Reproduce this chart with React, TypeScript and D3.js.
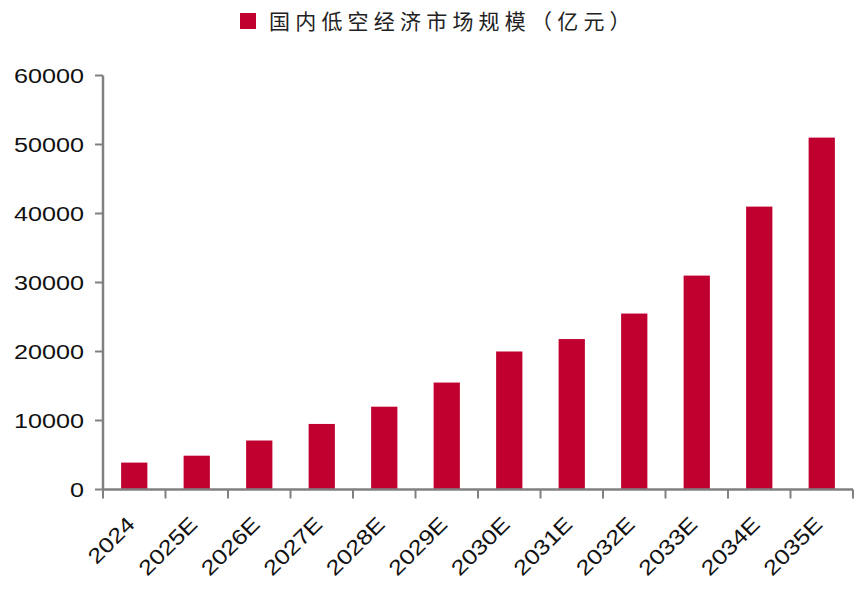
import React from "react";
import * as d3 from "d3";

const categories = ["2024", "2025E", "2026E", "2027E", "2028E", "2029E", "2030E", "2031E", "2032E", "2033E", "2034E", "2035E"];
const values = [3900, 4900, 7100, 9500, 12000, 15500, 20000, 21800, 25500, 31000, 41000, 51000];
const yTicks = [0, 10000, 20000, 30000, 40000, 50000, 60000];
const legendLabel = "国内低空经济市场规模（亿元）";

const W = 859;
const H = 592;
const left = 103;
const right = 853;
const top = 75.5;
const bottom = 489.5;
const barColor = "#C0002F";
const axisColor = "#808080";

export default function App() {
  const x = d3.scaleBand<string>().domain(categories).range([left, right]).paddingInner(0.58).paddingOuter(0.29);
  const xb = d3.scaleBand<string>().domain(categories).range([left, right]);
  const y = d3.scaleLinear().domain([0, 60000]).range([bottom, top]);
  const font = "Arial, 'Liberation Sans', sans-serif";
  return (
    <svg width={W} height={H} style={{ position: "absolute", left: 0, top: 0, background: "#fff" }}>
      <rect x={0} y={0} width={W} height={H} fill="#fff" />
      {/* legend */}
      <rect x={240} y={13} width={16} height={16} fill={barColor} />
      <text x={269} y={29} fontFamily="'Noto Sans CJK SC', sans-serif" fontSize={21} fontWeight={400} letterSpacing={5.2} fill="#222">
        {legendLabel}
      </text>
      {/* bars */}
      {categories.map((c, i) => (
        <rect key={c} x={x(c)} y={y(values[i])} width={x.bandwidth()} height={bottom - y(values[i])} fill={barColor} />
      ))}
      {/* y axis */}
      <line x1={left} x2={left} y1={top} y2={bottom} stroke={axisColor} strokeWidth={2.5} />
      {yTicks.map((t) => (
        <g key={t}>
          <line x1={left - 8} x2={left} y1={y(t)} y2={y(t)} stroke={axisColor} strokeWidth={2} />
          <text
            x={0}
            y={0}
            transform={`translate(${84},${y(t) + 7.5}) scale(1.2,1)`}
            textAnchor="end"
            fontFamily={font}
            fontSize={21}
            fill="#111"
          >
            {t}
          </text>
        </g>
      ))}
      {/* x axis */}
      <line x1={left} x2={right} y1={bottom} y2={bottom} stroke={axisColor} strokeWidth={2.5} />
      {[...categories.map((c) => xb(c) as number), right].map((px, i) => (
        <line key={i} x1={px} x2={px} y1={bottom} y2={bottom + 9} stroke={axisColor} strokeWidth={2} />
      ))}
      {categories.map((c) => {
        const cx = (xb(c) as number) + xb.bandwidth() / 2;
        return (
          <text
            key={c}
            transform={`translate(${cx + 2},${bottom + 36}) rotate(-45) scale(1.2,1)`}
            textAnchor="end"
            fontFamily={font}
            fontSize={21}
            fill="#111"
          >
            {c}
          </text>
        );
      })}
    </svg>
  );
}
